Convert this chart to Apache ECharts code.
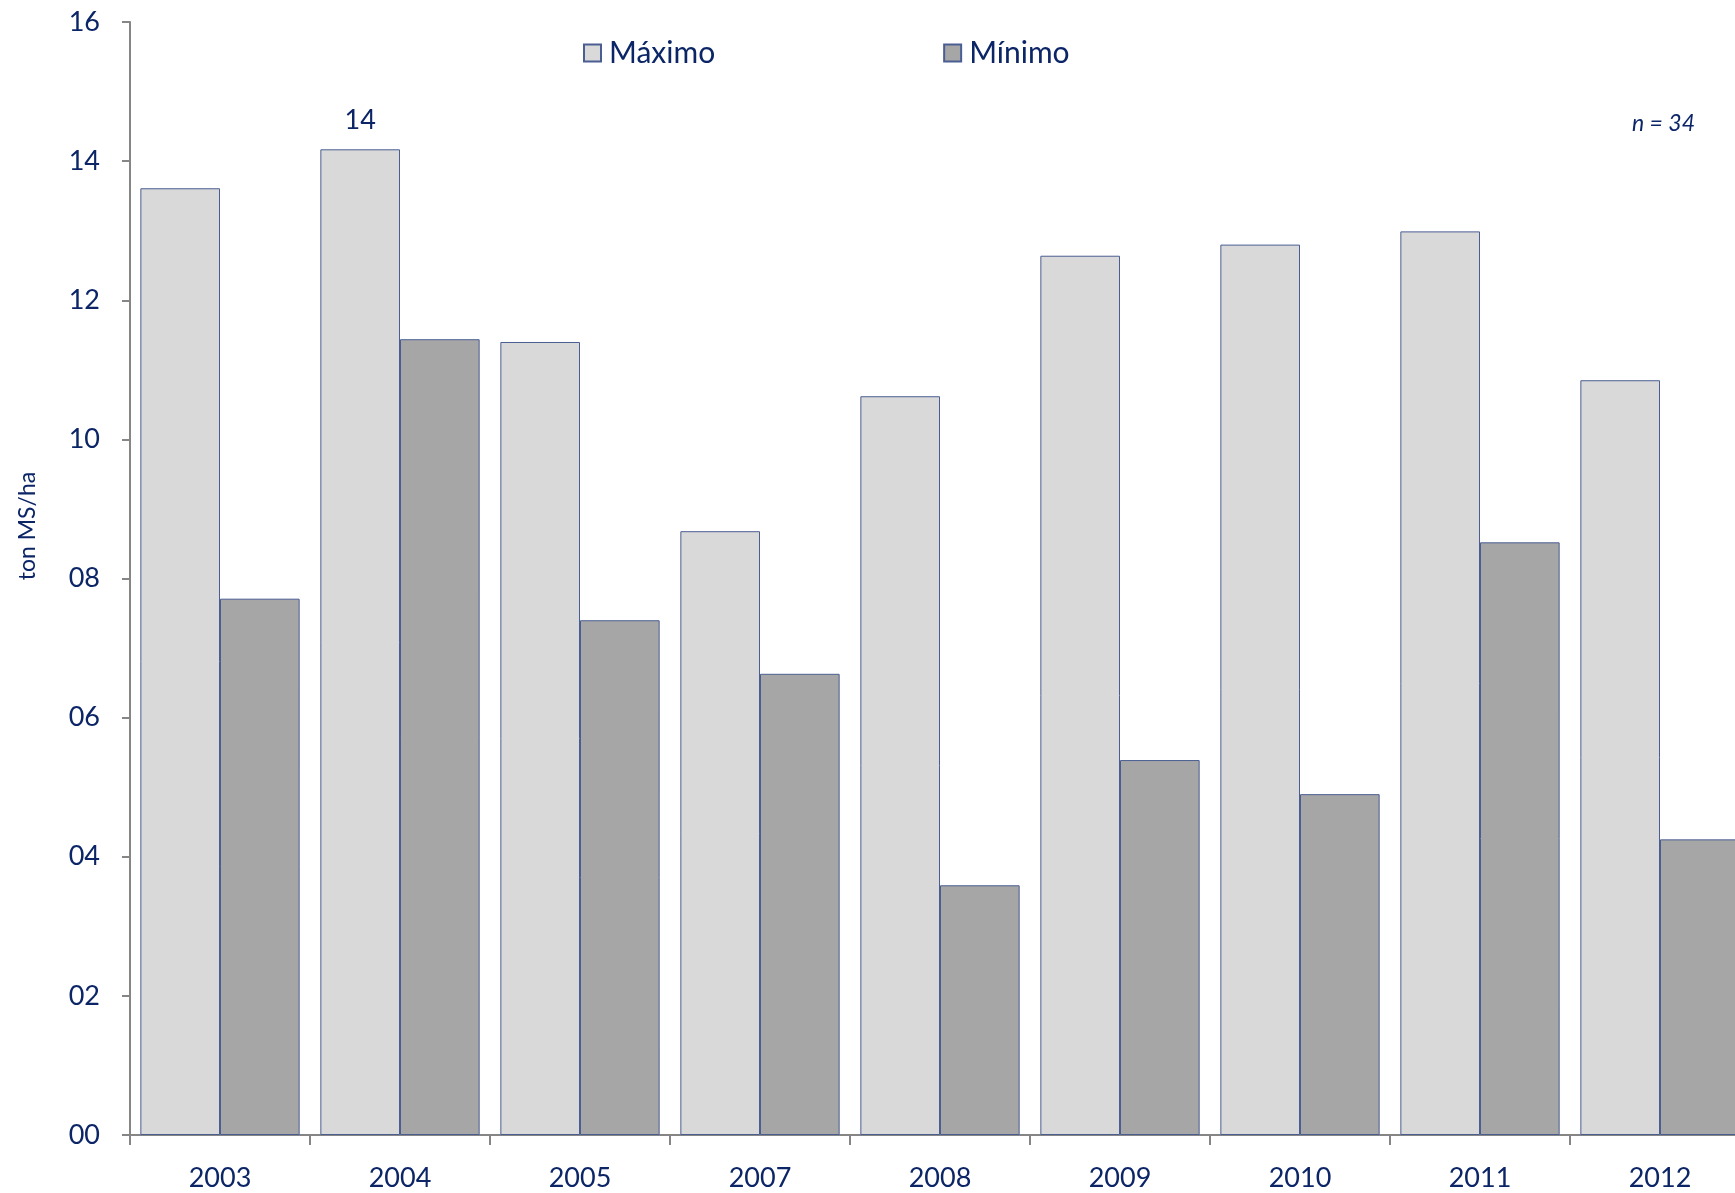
<!DOCTYPE html>
<html>
<head>
<meta charset="utf-8">
<script src="https://cdn.jsdelivr.net/npm/echarts@6/dist/echarts.min.js"></script>
<style>
  html, body { margin: 0; padding: 0; background: #ffffff; overflow: hidden; }
  /* the drawing surface is a little wider than the window, so the last bar is cut at the edge */
  #chart { width: 1750px; height: 1193px; }
</style>
</head>
<body>
<div id="chart"></div>
<script>
// Years and yearly dry-matter yield (ton MS/ha)
const years = ['2003', '2004', '2005', '2007', '2008', '2009', '2010', '2011', '2012'];
const maximo = [13.61, 14.17, 11.40, 8.68, 10.62, 12.64, 12.80, 12.99, 10.85];
const minimo = [7.71, 11.44, 7.40, 6.63, 3.59, 5.39, 4.90, 8.52, 4.25];
const labelledYears = ['2004'];          // years whose Máximo bar carries its value
const yTicks = [0, 2, 4, 6, 8, 10, 12, 14, 16];
const seriesNames = ['Máximo', 'Mínimo'];
const sampleNote = 'n = 34';
const yAxisTitle = 'ton MS/ha';

const NAVY = '#0B2566';
const AXIS_GREY = '#868686';
const FONT = 'Lato, "Open Sans", sans-serif';
const pad2 = v => String(Math.round(v)).padStart(2, '0');

const chart = echarts.init(document.getElementById('chart'), null, { renderer: 'canvas' });

const barBorder = { borderColor: '#4A5E92', borderWidth: 1 };

chart.setOption({
  animation: false,
  backgroundColor: '#ffffff',
  textStyle: { fontFamily: FONT },
  grid: { left: 130, right: 0, top: 22, bottom: 58, containLabel: false },
  legend: {
    data: seriesNames,
    left: 583,
    top: 38,
    padding: 0,
    icon: 'rect',
    itemWidth: 17,
    itemHeight: 17,
    itemGap: 228,
    textStyle: { color: NAVY, fontSize: 30, fontFamily: FONT, padding: [0, 0, 0, 3] }
  },
  xAxis: {
    type: 'category',
    data: years,
    boundaryGap: true,
    axisLine: { lineStyle: { color: AXIS_GREY, width: 2 } },
    axisTick: { show: true, length: 10, lineStyle: { color: AXIS_GREY, width: 2 } },
    axisLabel: { color: NAVY, fontSize: 27, margin: 30, fontFamily: FONT }
  },
  yAxis: {
    type: 'value',
    min: yTicks[0],
    max: yTicks[yTicks.length - 1],
    interval: yTicks[1] - yTicks[0],
    splitLine: { show: false },
    axisLine: { show: true, lineStyle: { color: AXIS_GREY, width: 2 } },
    axisTick: { show: true, length: 8, lineStyle: { color: AXIS_GREY, width: 2 } },
    axisLabel: { color: NAVY, fontSize: 27, margin: 30, fontFamily: FONT, formatter: v => pad2(v) }
  },
  series: [
    {
      name: seriesNames[0],
      type: 'bar',
      barGap: '0%',
      barCategoryGap: '11.5%',
      itemStyle: Object.assign({ color: '#D9D9D9' }, barBorder),
      data: maximo.map((v, i) => labelledYears.includes(years[i])
        ? {
            value: v,
            label: {
              show: true, position: 'top', distance: 16,
              color: NAVY, fontSize: 27, fontFamily: FONT,
              formatter: p => String(Math.round(p.value))
            }
          }
        : v)
    },
    {
      name: seriesNames[1],
      type: 'bar',
      barGap: '0%',
      barCategoryGap: '11.5%',
      itemStyle: Object.assign({ color: '#A6A6A6' }, barBorder),
      data: minimo
    }
  ],
  graphic: [
    {
      type: 'text',
      x: 1695,
      y: 124,
      style: {
        text: sampleNote,
        fill: NAVY,
        font: 'italic 23px ' + FONT,
        align: 'right',
        verticalAlign: 'middle'
      }
    },
    {
      type: 'text',
      x: 28,
      y: 526,
      rotation: Math.PI / 2,
      style: {
        text: yAxisTitle,
        fill: NAVY,
        font: '23px ' + FONT,
        align: 'center',
        verticalAlign: 'middle'
      }
    }
  ]
});
</script>
</body>
</html>
